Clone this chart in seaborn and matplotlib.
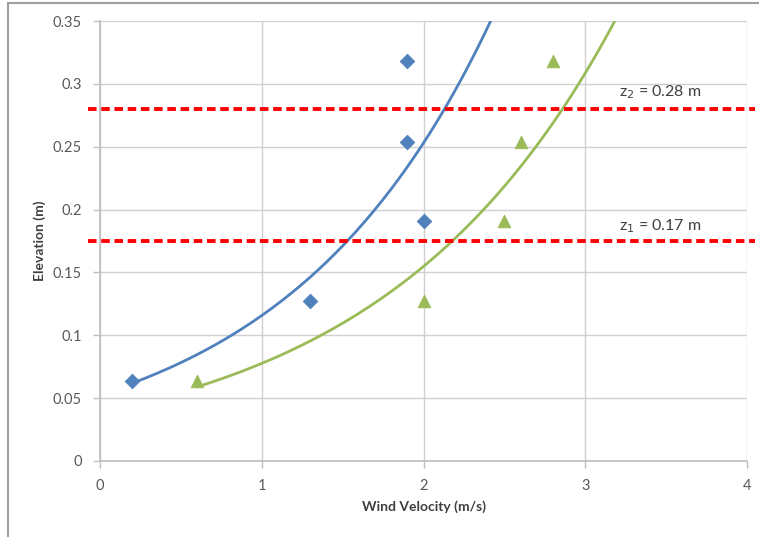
import numpy as np
import pandas as pd
import seaborn as sns
import matplotlib.pyplot as plt
from matplotlib.lines import Line2D

## Data
elev = [0.064, 0.127, 0.318, 0.254, 0.191]
vel_a = [0.2, 1.3, 1.9, 1.9, 2.0]
elev_b = [0.064, 0.127, 0.191, 0.254, 0.318]
vel_b = [0.6, 2.0, 2.5, 2.6, 2.8]
z_levels = [0.28, 0.175]
z_labels = ['z$_2$ = 0.28 m', 'z$_1$ = 0.17 m']

blue = '#4F81BD'
green = '#9BBB59'

sns.set_theme(style='white')
plt.rcParams['font.family'] = ['Lato', 'DejaVu Sans']

fig = plt.figure(figsize=(7.59, 5.37), dpi=100)
ax = fig.add_axes([100/759, 1-461/537, 647/759, 440/537])

df_a = pd.DataFrame({'v': vel_a, 'z': elev})
df_b = pd.DataFrame({'v': vel_b, 'z': elev_b})

## Excel style exponential trendlines (least squares on log y)
def exp_fit(df):
    b, lna = np.polyfit(df['v'], np.log(df['z']), 1)
    xs = np.linspace(df['v'].min(), 4, 200)
    return pd.DataFrame({'v': xs, 'z': np.exp(lna) * np.exp(b * xs)})

sns.lineplot(data=exp_fit(df_a), x='v', y='z', color=blue, lw=2, ax=ax, zorder=3)
sns.lineplot(data=exp_fit(df_b), x='v', y='z', color=green, lw=2, ax=ax, zorder=3)
sns.scatterplot(data=df_a, x='v', y='z', marker='D', s=55, color=blue, edgecolor=blue, ax=ax, zorder=4)
sns.scatterplot(data=df_b, x='v', y='z', marker='^', s=80, color=green, edgecolor=green, ax=ax, zorder=4)

for zl, lab, off in zip(z_levels, z_labels, [0.0135, 0.0115]):
    ax.add_line(Line2D([-0.075, 4.05], [zl, zl], color='#FF0000', lw=2.8, ls=(0, (2.2, 1.2)),
                       clip_on=False, zorder=5))
    ax.text(3.46, zl + off, lab, ha='center', va='center', fontsize=11.5, color='#404040')

ax.set_xlim(0, 4)
ax.set_ylim(0, 0.35)
ax.set_xticks([0, 1, 2, 3, 4])
ax.set_yticks(np.arange(0, 0.351, 0.05))
ax.set_yticklabels(['0', '0.05', '0.1', '0.15', '0.2', '0.25', '0.3', '0.35'])
ax.grid(True, color='#D0D0D0', lw=1)
ax.set_axisbelow(True)
for s in ['top', 'right']:
    ax.spines[s].set_visible(False)
for s in ['left', 'bottom']:
    ax.spines[s].set_color('#BFBFBF')
ax.tick_params(axis='both', colors='#595959', labelsize=10.5, length=5, width=1,
               direction='out', left=True, bottom=True)
ax.tick_params(axis='both', color='#BFBFBF')
ax.tick_params(axis='x', pad=8)
ax.tick_params(axis='y', pad=8)
ax.set_xlabel('Wind Velocity (m/s)', fontsize=10, fontweight='bold', color='#404040', labelpad=5)
ax.set_ylabel('Elevation (m)', fontsize=10, fontweight='bold', color='#404040', labelpad=5)

## outer frame (left and top edges visible)
fig.add_artist(Line2D([8/759, 8/759], [0, 1-3/537], color='#A0A0A0', lw=1.5))
fig.add_artist(Line2D([8/759, 1], [1-3/537, 1-3/537], color='#A0A0A0', lw=1.5))

plt.savefig('out.png', dpi=100)
